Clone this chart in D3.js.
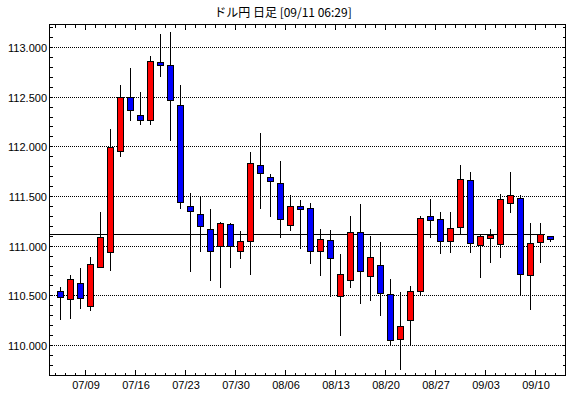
<!DOCTYPE html>
<html>
<head>
<meta charset="utf-8">
<script src="https://cdn.jsdelivr.net/npm/d3@7"></script>
<style>
  body { margin: 0; background: #fff; }
  text { font-family: "Liberation Sans", Arial, sans-serif; font-size: 11px; fill: #000; }
  .title { font-family: "Noto Sans CJK JP", sans-serif; font-size: 12px; }
  line, rect { shape-rendering: crispEdges; }
</style>
</head>
<body>
<div id="chart"></div>
<script>
// daily candles, USD/JPY
const dates = ["07/04","07/05","07/06","07/09","07/10","07/11","07/12","07/13","07/16","07/17",
  "07/18","07/19","07/20","07/23","07/24","07/25","07/26","07/27","07/30","07/31",
  "08/01","08/02","08/03","08/06","08/07","08/08","08/09","08/10","08/13","08/14",
  "08/15","08/16","08/17","08/20","08/21","08/22","08/23","08/24","08/27","08/28",
  "08/29","08/30","08/31","09/03","09/04","09/05","09/06","09/07","09/10","09/11"]
const open = [110.54,110.46,110.62,110.39,110.79,110.94,111.95,112.50,112.315,112.265,
  112.85,112.82,112.415,111.40,111.32,111.165,111.00,111.215,110.945,111.045,
  111.81,111.69,111.63,111.205,111.40,111.38,110.945,111.055,110.49,110.65,
  111.135,110.69,110.81,110.51,110.057,110.25,110.54,111.30,111.267,111.045,
  111.186,111.66,111.005,111.075,111.015,111.43,111.48,110.70,111.035,111.095]
const high = [110.59,110.716,110.79,110.90,111.35,112.18,112.63,112.80,112.56,112.92,
  113.145,113.165,112.63,111.54,111.51,111.38,111.25,111.24,111.16,111.955,
  112.147,111.734,111.865,111.52,111.47,111.44,111.175,111.165,110.93,111.31,
  111.43,111.11,111.05,110.675,110.545,110.605,111.31,111.48,111.35,111.35,
  111.825,111.755,111.125,111.175,111.53,111.755,111.52,111.24,111.24,111.105]
const low = [110.26,110.276,110.37,110.35,110.79,110.76,111.905,112.27,112.22,112.22,
  112.705,112.06,111.375,110.74,110.95,110.65,110.58,110.79,110.88,110.71,
  111.38,111.30,111.09,111.16,110.98,110.83,110.70,110.49,110.105,110.58,
  110.42,110.45,110.30,110.015,109.76,110.015,110.505,111.09,110.93,110.94,
  111.125,110.94,110.68,110.84,110.89,111.335,110.51,110.365,110.84,111.05]
const close = [110.48,110.665,110.47,110.82,111.085,111.99,112.50,112.365,112.265,112.86,
  112.82,112.465,111.44,111.35,111.195,110.945,111.225,111.00,111.045,111.83,
  111.727,111.646,111.27,111.40,111.365,110.945,111.065,110.88,110.71,111.135,
  110.74,110.885,110.52,110.05,110.19,110.54,111.275,111.257,111.045,111.175,
  111.67,111.025,111.095,111.105,111.47,111.51,110.713,111.025,111.115,111.065]
const tickLabels = ["07/09","07/16","07/23","07/30","08/06","08/13","08/20","08/27","09/03","09/10"]
const gridValues = [110.0, 110.5, 111.0, 111.5, 112.0, 112.5, 113.0]
const currentPrice = 111.115
const titleText = "ドル円 日足 [09/11 06:29]"

const width = 570, height = 398
const plotL = 49.5, plotR = 565.5, plotT = 24.5, plotB = 375.5

const svg = d3.select("#chart").append("svg")
  .attr("width", width)
  .attr("height", height)

const x = d3.scaleBand().domain(dates).range([55, 555])
const y = d3.scaleLinear().domain([110, 113]).range([345.5, 47.5])
const crisp = v => Math.round(v - 0.5) + 0.5
const cx = d => x(d) + x.bandwidth() / 2 + 0.5

svg.append("text").attr("class", "title")
  .attr("x", 283).attr("y", 17)
  .attr("text-anchor", "middle")
  .text(titleText)

// dotted grid
svg.selectAll(".grid").data(gridValues).join("line")
  .attr("x1", plotL).attr("x2", plotR)
  .attr("y1", d => crisp(y(d))).attr("y2", d => crisp(y(d)))
  .attr("stroke", "#000")
  .attr("stroke-dasharray", "1,1")

svg.selectAll(".ylab").data(gridValues).join("text")
  .attr("x", 47).attr("y", d => crisp(y(d)) + 4)
  .attr("text-anchor", "end")
  .text(d => d3.format(".3f")(d))

// minor ticks on left/right edges every 0.1
const yTicks = d3.range(1098, 1133).map(v => v / 10)
svg.selectAll(".ytl").data(yTicks).join("line")
  .attr("x1", plotL).attr("x2", plotL + 3)
  .attr("y1", d => crisp(y(d))).attr("y2", d => crisp(y(d)))
  .attr("stroke", "#000")
svg.selectAll(".ytr").data(yTicks).join("line")
  .attr("x1", plotR - 3).attr("x2", plotR)
  .attr("y1", d => crisp(y(d))).attr("y2", d => crisp(y(d)))
  .attr("stroke", "#000")

// x ticks top and bottom
const isMajor = d => tickLabels.includes(d)
const xt = dates.map(d => ({ d, pos: x(d) + 0.5, major: isMajor(d) }))
xt.push({ d: "", pos: 555.5, major: false })
svg.selectAll(".xtt").data(xt).join("line")
  .attr("x1", d => d.pos).attr("x2", d => d.pos)
  .attr("y1", plotT).attr("y2", d => plotT + (d.major ? 5 : 3))
  .attr("stroke", "#000")
svg.selectAll(".xtb").data(xt).join("line")
  .attr("x1", d => d.pos).attr("x2", d => d.pos)
  .attr("y1", plotB).attr("y2", d => plotB - (d.major ? 6 : 3))
  .attr("stroke", "#000")

svg.selectAll(".xlab").data(tickLabels).join("text")
  .attr("x", d => x(d) + 1).attr("y", 389)
  .attr("text-anchor", "middle")
  .text(d => d)

// current price line
svg.append("line")
  .attr("x1", plotL).attr("x2", 545)
  .attr("y1", crisp(y(currentPrice))).attr("y2", crisp(y(currentPrice)))
  .attr("stroke", "#000")

// candles
const idx = d3.range(dates.length)
svg.selectAll(".wick").data(idx).join("line")
  .attr("x1", i => cx(dates[i])).attr("x2", i => cx(dates[i]))
  .attr("y1", i => crisp(y(high[i]))).attr("y2", i => crisp(y(low[i])))
  .attr("stroke", "#000")

svg.selectAll(".body").data(idx).join("rect")
  .attr("x", i => cx(dates[i]) - 3)
  .attr("y", i => crisp(y(Math.max(open[i], close[i]))))
  .attr("width", 6)
  .attr("height", i => Math.max(1, crisp(y(Math.min(open[i], close[i]))) - crisp(y(Math.max(open[i], close[i])))))
  .attr("fill", i => close[i] >= open[i] ? "#ff0000" : "#0000ff")
  .attr("stroke", "#000")

// frame
svg.append("rect")
  .attr("x", plotL).attr("y", plotT)
  .attr("width", plotR - plotL).attr("height", plotB - plotT)
  .attr("fill", "none").attr("stroke", "#000")
</script>
</body>
</html>
